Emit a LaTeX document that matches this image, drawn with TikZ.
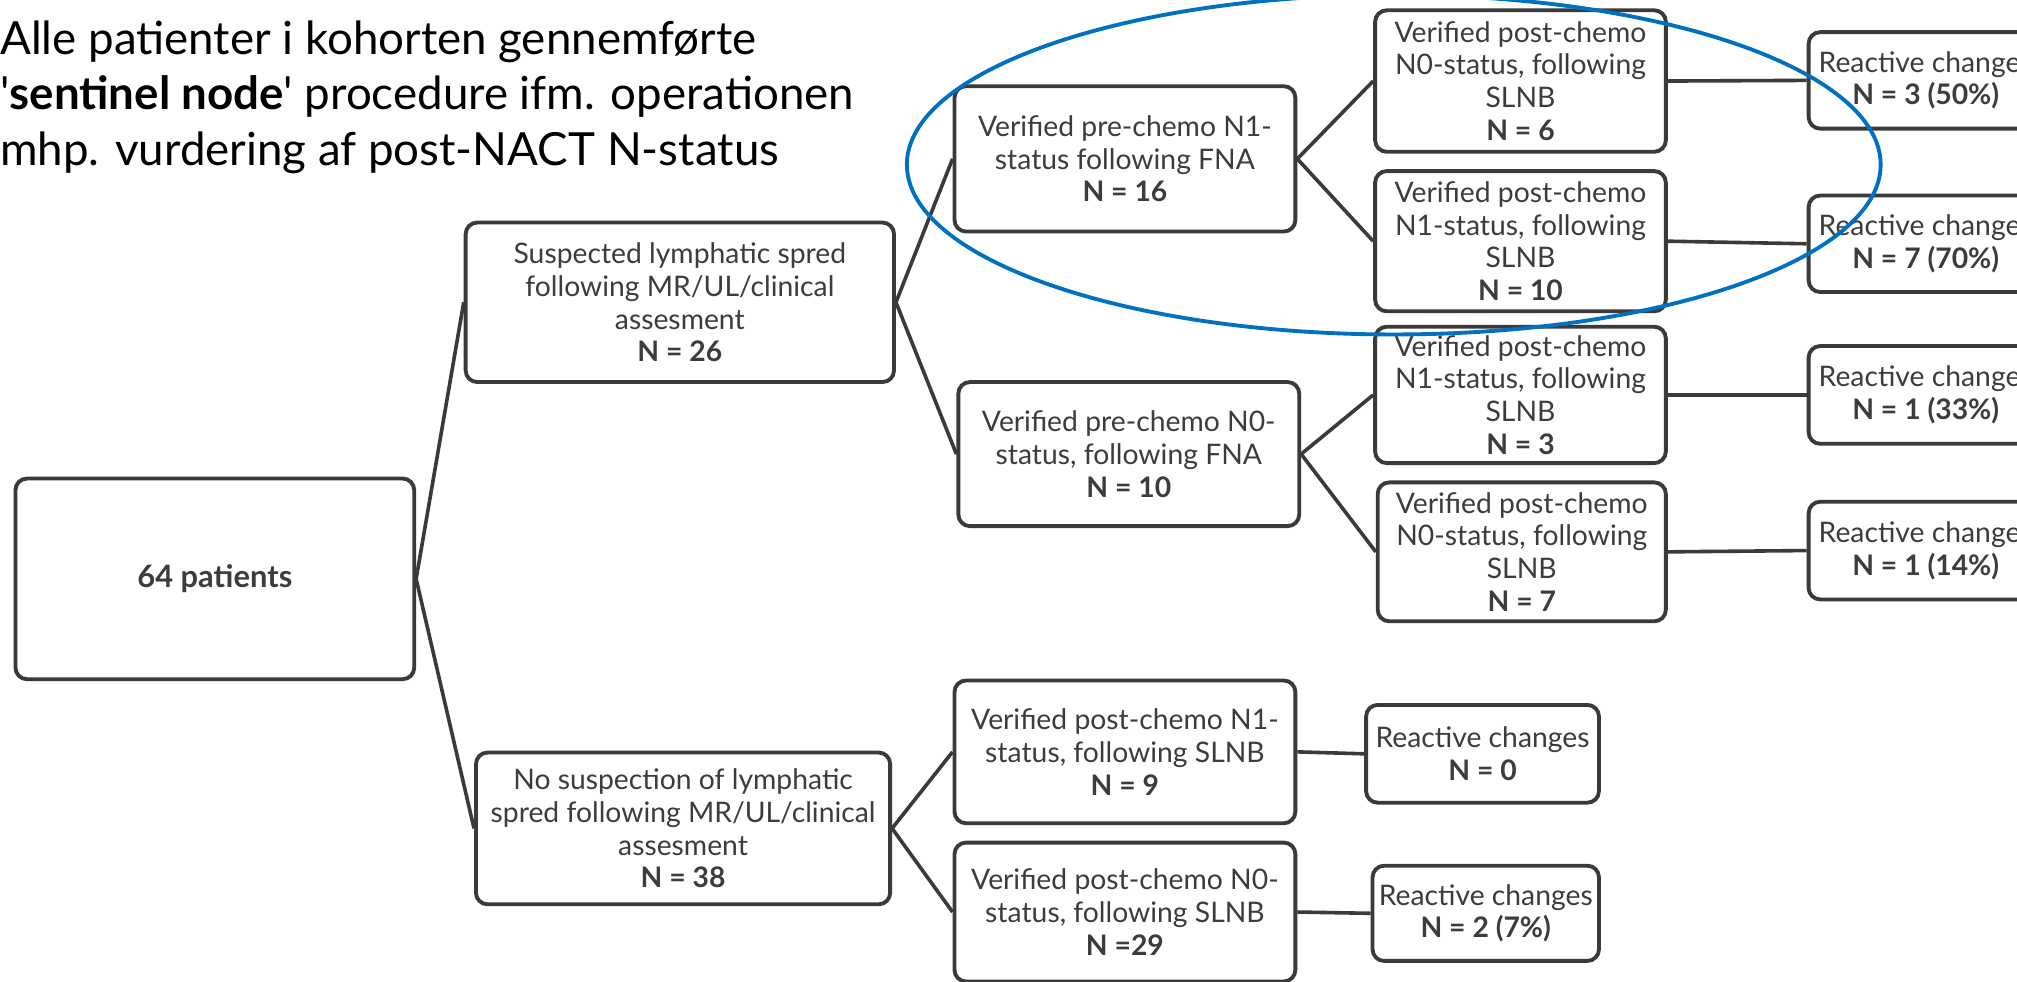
\documentclass[tikz,border=0pt]{standalone}
\usepackage{fontspec}
\setmainfont{Lato}[Ligatures=TeXOff]
\usetikzlibrary{shapes}
\definecolor{boxline}{RGB}{58,58,58}
\definecolor{boxtext}{RGB}{60,60,60}
\definecolor{ringblue}{RGB}{0,112,192}

\begin{document}
\begin{tikzpicture}[x=1pt, y=-1pt,
    box/.style={draw=boxline, line width=3pt, rounded corners=9pt, fill=white, text=boxtext, align=center, inner sep=0pt, font=\fontsize{22}{25.5}\selectfont},
    every edge/.style={draw=boxline, line width=2.8pt}]
  \useasboundingbox (0,0) rectangle (1568,763);
  \clip (0,0) rectangle (1568,763);
  \node[anchor=north west, align=left, inner sep=0pt, font=\fontsize{35.5}{43}\selectfont] (title) at (0,16)
    {Alle patienter i kohorten gennemførte\\'\textbf{sentinel node}' procedure ifm. operationen\\mhp. vurdering af post-NACT N-status};

  \node[box, minimum width=310pt, minimum height=156pt, font=\fontsize{24}{26}\selectfont] (pat) at (167,450) {\textbf{64 patients}};
  \node[box, minimum width=333pt, minimum height=124pt] (susp) at (528.5,235) {Suspected lymphatic spred\\following MR/UL/clinical\\assesment\\\textbf{N = 26}};
  \node[box, minimum width=322pt, minimum height=118pt] (nosusp) at (531,644) {No suspection of lymphatic\\spred following MR/UL/clinical\\assesment\\\textbf{N = 38}};

  \node[box, minimum width=265pt, minimum height=113pt] (pre1) at (874.5,123.5) {Verified pre-chemo N1-\\status following FNA\\\textbf{N = 16}};
  \node[box, minimum width=265pt, minimum height=112pt] (pre0) at (877.5,353) {Verified pre-chemo N0-\\status, following FNA\\\textbf{N = 10}};
  \node[box, minimum width=265pt, minimum height=111pt] (post9) at (874.5,584.5) {Verified post-chemo N1-\\status, following SLNB\\\textbf{N = 9}};
  \node[box, minimum width=265pt, minimum height=108pt] (post29) at (874.5,709) {Verified post-chemo N0-\\status, following SLNB\\\textbf{N =29}};

  \node[box, minimum width=226pt, minimum height=110pt] (post6) at (1182,63) {Verified post-chemo\\N0-status, following\\SLNB\\\textbf{N = 6}};
  \node[box, minimum width=226pt, minimum height=109pt] (post10) at (1182,187.5) {Verified post-chemo\\N1-status, following\\SLNB\\\textbf{N = 10}};
  \node[box, minimum width=226pt, minimum height=106pt] (post3) at (1182,307) {Verified post-chemo\\N1-status, following\\SLNB\\\textbf{N = 3}};
  \node[box, minimum width=224pt, minimum height=108pt] (post7) at (1183,429) {Verified post-chemo\\N0-status, following\\SLNB\\\textbf{N = 7}};

  \node[box, minimum width=182pt, minimum height=75pt] (re50) at (1497,62.5) {Reactive changes\\\textbf{N = 3 (50\%)}};
  \node[box, minimum width=182pt, minimum height=75pt] (re70) at (1497,189.5) {Reactive changes\\\textbf{N = 7 (70\%)}};
  \node[box, minimum width=182pt, minimum height=76pt] (re33) at (1497,307) {Reactive changes\\\textbf{N = 1 (33\%)}};
  \node[box, minimum width=182pt, minimum height=76pt] (re14) at (1497,428) {Reactive changes\\\textbf{N = 1 (14\%)}};
  \node[box, minimum width=181pt, minimum height=76pt] (re0) at (1152.5,586) {Reactive changes\\\textbf{N = 0}};
  \node[box, minimum width=176pt, minimum height=74pt] (re7) at (1155,710) {Reactive changes\\\textbf{N = 2 (7\%)}};

  \path (pat.east) edge (susp.west)
        (pat.east) edge (nosusp.west)
        (susp.east) edge (pre1.west)
        (susp.east) edge (pre0.west)
        (nosusp.east) edge (post9.west)
        (nosusp.east) edge (post29.west)
        (pre1.east) edge (post6.west)
        (pre1.east) edge (post10.west)
        (pre0.east) edge (post3.west)
        (pre0.east) edge (post7.west)
        (post6.east) edge (re50.west)
        (post10.east) edge (re70.west)
        (post3.east) edge (re33.west)
        (post7.east) edge (re14.west)
        (post9.east) edge (re0.west)
        (post29.east) edge (re7.west);

  \draw[ringblue, line width=3pt] (1083.5,128) ellipse [x radius=378.5, y radius=132];
\end{tikzpicture}
\end{document}
